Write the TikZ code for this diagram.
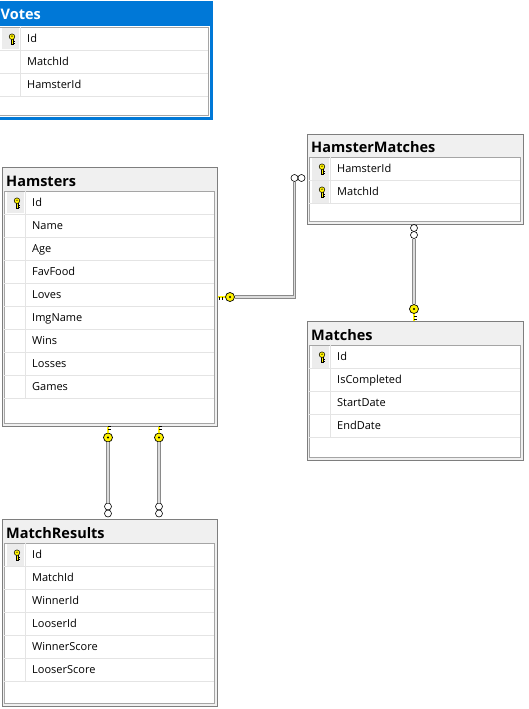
\documentclass[tikz,border=0pt]{standalone}
\usepackage{fontspec}
\setmainfont{Open Sans}
\definecolor{tblline}{HTML}{7E7E7E}
\definecolor{tblbg}{HTML}{F0F0F0}
\definecolor{panelline}{HTML}{A5A5A5}
\definecolor{rowgray}{HTML}{E4E4E4}
\definecolor{keybg}{HTML}{ECECEC}
\definecolor{selblue}{HTML}{0078D7}
\definecolor{keyyellow}{HTML}{FFF200}
\definecolor{linkdark}{HTML}{8A8A8A}
\definecolor{linklight}{HTML}{DCDCDC}
\begin{document}
\begin{tikzpicture}[x=1pt, y=-1pt,
    tbl/.style={draw=tblline, line width=1.6pt, fill=tblbg, anchor=north west, inner sep=0pt},
    panel/.style={draw=panelline, fill=white, line width=0.8pt},
    ttl/.style={anchor=west, inner sep=0pt, text height=12pt, text depth=1.4pt, font=\bfseries\fontsize{14.5}{16}\selectfont},
    fld/.style={anchor=west, inner sep=0pt, text height=10pt, text depth=2pt, font=\fontsize{11}{13}\selectfont},
    rowline/.style={draw=rowgray, line width=0.8pt},
    keycell/.style={fill=keybg},
    link/.style={draw=linkdark, double=linklight, line width=1.1pt, double distance=1.4pt},
    keyend/.style={circle, draw=black, fill=keyyellow, line width=0.7pt, minimum size=9pt, inner sep=0pt,
        path picture={\fill[black] (path picture bounding box.center) circle (1.2pt);}},
    keybit/.style={draw=black, double=keyyellow, line width=0.5pt, double distance=1.5pt},
    keytooth/.style={draw=black, line width=0.8pt},
    manyend/.style={circle, draw=black, fill=white, line width=0.6pt, minimum size=7pt, inner sep=0pt},
    pk/.pic={
        \filldraw[fill=keyyellow, draw=black, line width=0.5pt] (-1,0) rectangle (1,5.5);
        \draw[black, line width=0.6pt] (1,2.6) -- (2.6,2.6) (1,4.6) -- (2.6,4.6);
        \filldraw[fill=keyyellow, draw=black, line width=0.5pt] (0,-1.8) circle (2.8);
        \fill[black] (0,-2.3) circle (0.7);
    }]
\clip (0,0) rectangle (529,709);
\fill[white] (0,0) rectangle (529,709);

% Votes (selected)
\node[tbl, draw=selblue, line width=3pt, fill=white, minimum width=212.5pt, minimum height=115pt] (votes) at (-3,1.5) {};
\fill[selblue] (-3,1.5) rectangle (209.5,26);
\node[ttl, text=white] (votes-t) at (0.5,14) {Votes};
\draw[panel] (-1,27) rectangle (208,115);
\fill[keycell] (2,28) rectangle (19,49.5);
\foreach \f [count=\i] in {Id,MatchId,HamsterId}
    {\node[fld] (votes-\i) at (27,15.5+23*\i) {\f};
     \draw[rowline] (-1,27+23*\i) -- (208,27+23*\i);}
\draw[rowline] (20,27) -- (20,96);
\pic at (12,38.5) {pk};

% Hamsters
\node[tbl, minimum width=215pt, minimum height=259pt] (hamsters) at (1.5,166.5) {};
\node[ttl] (hamsters-t) at (6,181) {Hamsters};
\draw[panel] (4,191) rectangle (214,423);
\fill[keycell] (7,192) rectangle (24,212.5);
\foreach \f [count=\i] in {Id,Name,Age,FavFood,Loves,ImgName,Wins,Losses,Games}
    {\node[fld] (hamsters-\i) at (32,179.5+23*\i) {\f};
     \draw[rowline] (4,191+23*\i) -- (214,191+23*\i);}
\draw[rowline] (25,191) -- (25,398);
\pic at (17,202.5) {pk};

% HamsterMatches
\node[tbl, minimum width=216pt, minimum height=90pt] (hm) at (306.5,133.5) {};
\node[ttl] (hm-t) at (311,147) {HamsterMatches};
\draw[panel] (309,157) rectangle (520,221);
\fill[keycell] (312,158) rectangle (329,179.5);
\fill[keycell] (312,181) rectangle (329,202.5);
\foreach \f [count=\i] in {HamsterId,MatchId}
    {\node[fld] (hm-\i) at (337,145.5+23*\i) {\f};
     \draw[rowline] (309,157+23*\i) -- (520,157+23*\i);
     \pic at (322,145.5+23*\i) {pk};}
\draw[rowline] (330,157) -- (330,203);

% Matches
\node[tbl, minimum width=216pt, minimum height=139pt] (matches) at (306.5,320.5) {};
\node[ttl] (matches-t) at (311,335) {Matches};
\draw[panel] (309,345) rectangle (520,457);
\fill[keycell] (312,346) rectangle (329,367.5);
\foreach \f [count=\i] in {Id,IsCompleted,StartDate,EndDate}
    {\node[fld] (matches-\i) at (337,333.5+23*\i) {\f};
     \draw[rowline] (309,345+23*\i) -- (520,345+23*\i);}
\draw[rowline] (330,345) -- (330,437);
\pic at (322,356.5) {pk};

% MatchResults
\node[tbl, minimum width=215pt, minimum height=187pt] (results) at (1.5,518.5) {};
\node[ttl] (results-t) at (6,533) {MatchResults};
\draw[panel] (4,543) rectangle (214,703);
\fill[keycell] (7,544) rectangle (24,565.5);
\foreach \f [count=\i] in {Id,MatchId,WinnerId,LooserId,WinnerScore,LooserScore}
    {\node[fld] (results-\i) at (32,531.5+23*\i) {\f};
     \draw[rowline] (4,543+23*\i) -- (214,543+23*\i);}
\draw[rowline] (25,543) -- (25,681);
\pic at (17,554.5) {pk};

% Hamsters -> HamsterMatches
\node[keyend] (k1) at (230,297) {};
\node[manyend] (m1a) at (294.5,178) {};
\node[manyend] (m1b) at (301.5,178) {};
\draw[link] (k1.east) -| (m1a.south);
\draw[keybit] (k1.west) -- (hamsters.east |- k1);
\draw[keytooth] (k1.west) ++(-3,0) -- ++(0,2.5) ++(-3,-2.5) -- ++(0,2.5);

% Matches -> HamsterMatches
\node[manyend] (m2a) at (414,228) {};
\node[manyend] (m2b) at (414,235) {};
\node[keyend] (k2) at (414,309) {};
\draw[link] (m2b) -- (k2);
\draw[keybit] (k2.south) -- (matches.north -| k2);
\draw[keytooth] (k2.south) ++(0,3) -- ++(2.5,0) ++(-2.5,3) -- ++(2.5,0);

% Hamsters -> MatchResults
\node[keyend] (k3) at (108,437.5) {};
\node[keyend] (k4) at (159,437.5) {};
\node[manyend] (m3a) at (108,506.5) {};
\node[manyend] (m3b) at (108,513.5) {};
\node[manyend] (m4a) at (159,506.5) {};
\node[manyend] (m4b) at (159,513.5) {};
\draw[link] (k3) -- (m3a);
\draw[link] (k4) -- (m4a);
\draw[keybit] (k3.north) -- (hamsters.south -| k3);
\draw[keybit] (k4.north) -- (hamsters.south -| k4);
\draw[keytooth] (k3.north) ++(0,-3) -- ++(2.5,0) ++(-2.5,-3) -- ++(2.5,0);
\draw[keytooth] (k4.north) ++(0,-3) -- ++(2.5,0) ++(-2.5,-3) -- ++(2.5,0);
\end{tikzpicture}
\end{document}
